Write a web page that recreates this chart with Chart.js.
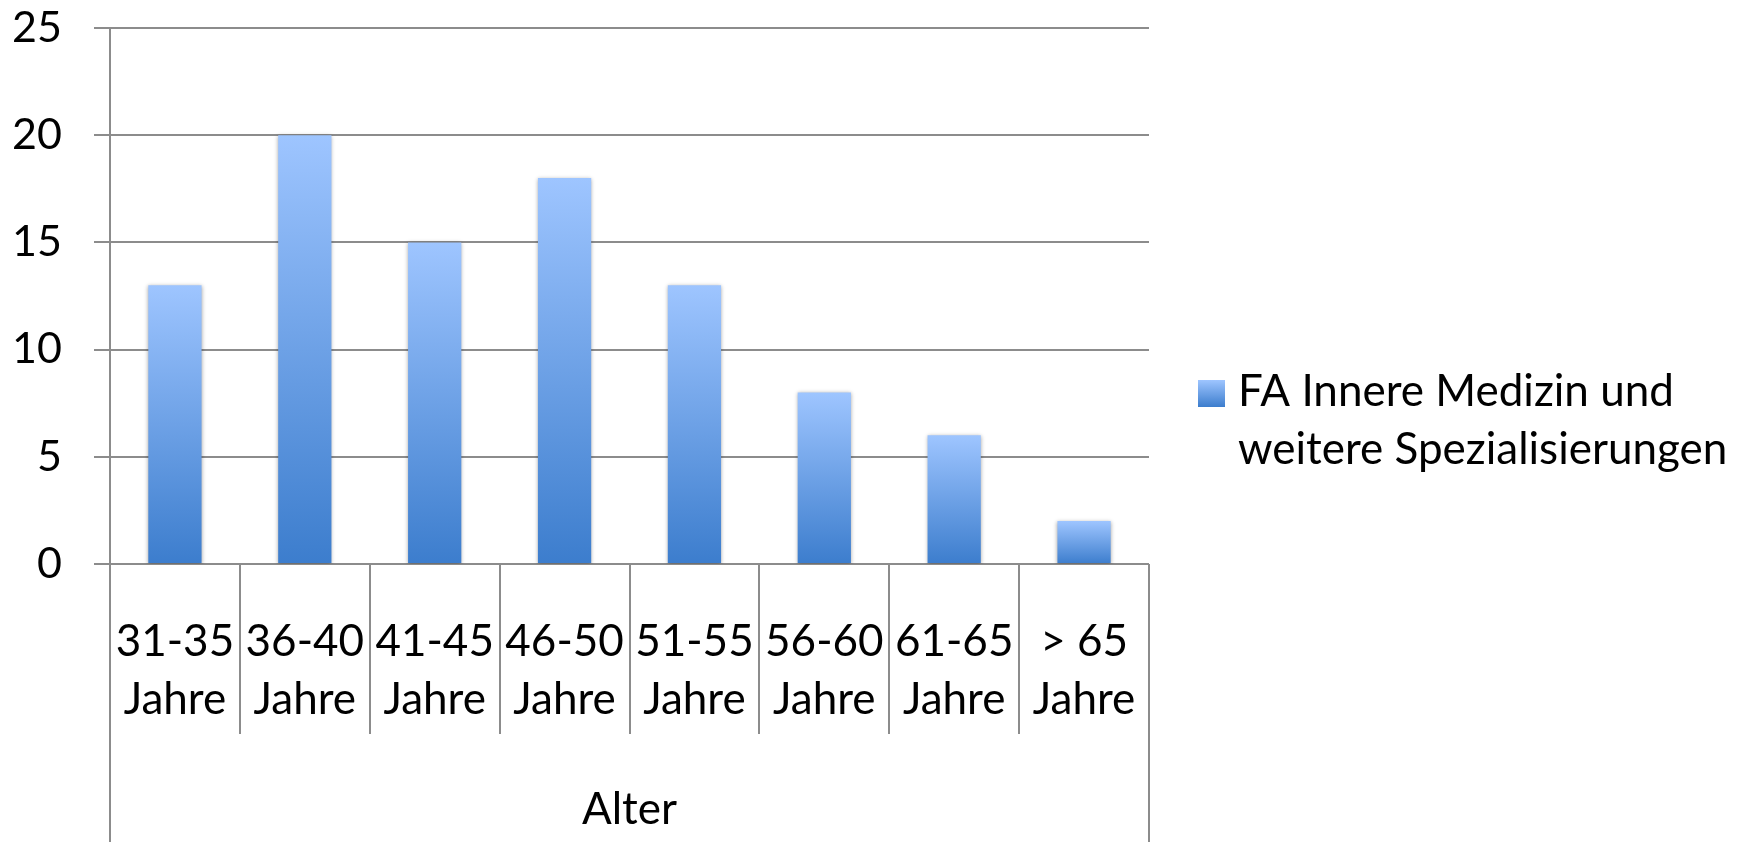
<!DOCTYPE html>
<html>
<head>
<meta charset="utf-8">
<script src="https://cdn.jsdelivr.net/npm/chart.js@4/dist/chart.umd.min.js"></script>
<style>
  html, body { margin: 0; padding: 0; background: #fff; }
  #wrap { width: 1750px; height: 842px; position: relative; }
</style>
</head>
<body>
<div id="wrap"><canvas id="c" width="1750" height="842"></canvas></div>
<script>
// Age groups (two-line category labels)
const ageGroups = [
  ['31-35', 'Jahre'], ['36-40', 'Jahre'], ['41-45', 'Jahre'], ['46-50', 'Jahre'],
  ['51-55', 'Jahre'], ['56-60', 'Jahre'], ['61-65', 'Jahre'], ['> 65', 'Jahre']
];
// Number of doctors per age group
const doctorCounts = [13, 20, 15, 18, 13, 8, 6, 2];
// Value axis range and step
const yMin = 0;
const yMax = 25;
const yStep = 5;
// Series name, split over two legend lines
const seriesName = ['FA Innere Medizin und', 'weitere Spezialisierungen'];
const axisTitle = 'Alter';

const FONT = 'Lato, "Open Sans", sans-serif';
const GRID = '#8c8c8c';
const LIGHT = '#9ec5ff';
const DARK = '#3c7dcd';

function barGradient(ctx, yTop, yBottom) {
  const g = ctx.createLinearGradient(0, yTop, 0, yBottom);
  g.addColorStop(0, LIGHT);
  g.addColorStop(1, DARK);
  return g;
}

// Bar shadow halo
const barShadow = {
  id: 'barShadow',
  beforeDatasetsDraw(chart) {
    const ctx = chart.ctx;
    ctx.save();
    ctx.shadowColor = 'rgba(0,0,0,0.35)';
    ctx.shadowBlur = 4;
    ctx.shadowOffsetY = 1;
  },
  afterDatasetsDraw(chart) {
    chart.ctx.restore();
  }
};

// Category separator lines below the axis and the extended frame
const categoryFrame = {
  id: 'categoryFrame',
  afterDraw(chart) {
    const ctx = chart.ctx;
    const xs = chart.scales.x;
    const area = chart.chartArea;
    const n = chart.data.labels.length;
    const w = xs.width / n;
    ctx.save();
    ctx.strokeStyle = GRID;
    ctx.lineWidth = 2;
    for (let k = 0; k <= n; k++) {
      const x = Math.round(xs.left + k * w);
      const yEnd = (k === 0 || k === n) ? chart.height : area.bottom + 170;
      ctx.beginPath();
      ctx.moveTo(x, area.bottom);
      ctx.lineTo(x, yEnd);
      ctx.stroke();
    }
    ctx.restore();
  }
};

// Legend on the right with a two-line entry
const sideLegend = {
  id: 'sideLegend',
  afterDraw(chart) {
    const ctx = chart.ctx;
    const sx = 1198, sy = 380, size = 27;
    ctx.save();
    ctx.fillStyle = barGradient(ctx, sy, sy + size);
    ctx.fillRect(sx, sy, size, size);
    ctx.fillStyle = '#000';
    ctx.font = '44px ' + FONT;
    ctx.textBaseline = 'alphabetic';
    ctx.textAlign = 'left';
    seriesName.forEach((line, i) => {
      ctx.fillText(line, 1238, 406 + i * 58);
    });
    ctx.restore();
  }
};

new Chart(document.getElementById('c'), {
  type: 'bar',
  data: {
    labels: ageGroups,
    datasets: [{
      label: seriesName.join(' '),
      data: doctorCounts,
      backgroundColor(context) {
        const chart = context.chart;
        const ys = chart.scales && chart.scales.y;
        if (!chart.chartArea || !ys || context.parsed === undefined) return DARK;
        const top = ys.getPixelForValue(context.parsed.y);
        const base = ys.getPixelForValue(0);
        return barGradient(chart.ctx, top, base);
      },
      borderWidth: 0,
      categoryPercentage: 1,
      barPercentage: 0.41
    }]
  },
  options: {
    responsive: false,
    animation: false,
    devicePixelRatio: 1,
    layout: { padding: { top: 0, right: 601, left: 0, bottom: 0 } },
    plugins: {
      legend: { display: false },
      tooltip: { enabled: false }
    },
    scales: {
      x: {
        afterFit(scale) { scale.height = 278; },
        grid: { display: false, drawTicks: false },
        border: { display: false },
        ticks: {
          color: '#000',
          font: { family: FONT, size: 44, lineHeight: 1.32 },
          padding: 49,
          maxRotation: 0,
          autoSkip: false
        },
        title: {
          display: true,
          text: axisTitle,
          color: '#000',
          font: { family: FONT, size: 44 },
          padding: { top: 0, bottom: 6 }
        }
      },
      y: {
        min: yMin,
        max: yMax,
        afterFit(scale) {
          scale.width = 110;
          scale.paddingTop = 28;
          scale.paddingBottom = 0;
        },
        grid: { color: GRID, lineWidth: 2, tickLength: 16, drawTicks: true },
        border: { display: true, color: GRID, width: 2 },
        ticks: {
          stepSize: yStep,
          color: '#000',
          font: { family: FONT, size: 43 },
          padding: 32
        }
      }
    }
  },
  plugins: [barShadow, categoryFrame, sideLegend]
});
</script>
</body>
</html>
